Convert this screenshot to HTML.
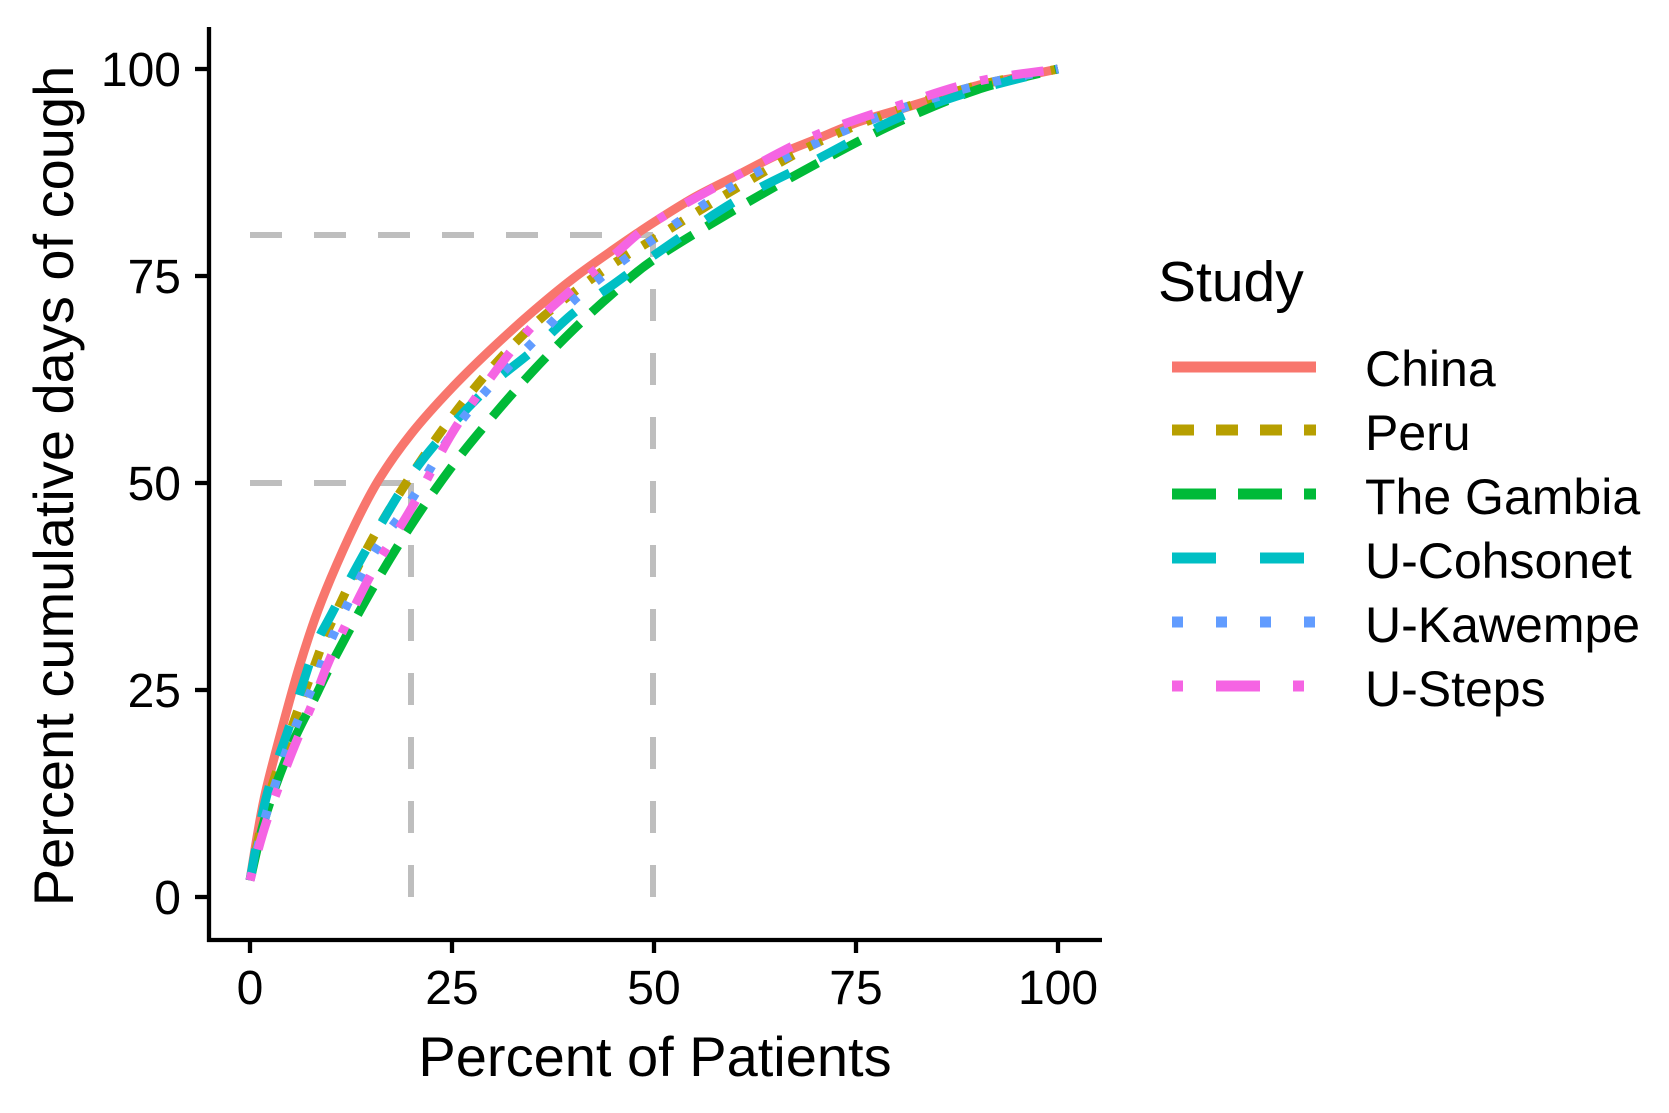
<!DOCTYPE html>
<html><head><meta charset="utf-8"><style>
html,body{margin:0;padding:0;background:#fff;}
svg{display:block;font-family:"Liberation Sans",Arial,sans-serif;}
</style></head><body>
<svg id="s" width="1669" height="1113" viewBox="0 0 1669 1113" xmlns="http://www.w3.org/2000/svg">
<rect width="1669" height="1113" fill="#fff"/>
<g stroke="#BEBEBE" stroke-width="6" stroke-dasharray="32,32" fill="none">
<line x1="250" y1="235" x2="653" y2="235"/>
<line x1="653" y1="897" x2="653" y2="235"/>
<line x1="250" y1="483" x2="411" y2="483"/>
<line x1="411" y1="897" x2="411" y2="483"/>
</g>
<g id="curves" fill="none" stroke-width="9" stroke-linecap="butt"></g>
<g stroke="#000" stroke-width="4.3">
<line x1="209" y1="27" x2="209" y2="942"/>
<line x1="207" y1="940" x2="1102" y2="940"/>
<line x1="195" y1="897" x2="209" y2="897"/>
<line x1="195" y1="690" x2="209" y2="690"/>
<line x1="195" y1="483" x2="209" y2="483"/>
<line x1="195" y1="276" x2="209" y2="276"/>
<line x1="195" y1="69" x2="209" y2="69"/>
<line x1="250" y1="940" x2="250" y2="953"/>
<line x1="452" y1="940" x2="452" y2="953"/>
<line x1="654" y1="940" x2="654" y2="953"/>
<line x1="856" y1="940" x2="856" y2="953"/>
<line x1="1058" y1="940" x2="1058" y2="953"/>
</g>
<g font-size="48" fill="#000" text-anchor="end">
<text x="181" y="914">0</text>
<text x="181" y="707">25</text>
<text x="181" y="500">50</text>
<text x="181" y="293">75</text>
<text x="181" y="86">100</text>
</g>
<g font-size="48" fill="#000" text-anchor="middle">
<text x="250" y="1004">0</text>
<text x="452" y="1004">25</text>
<text x="654" y="1004">50</text>
<text x="856" y="1004">75</text>
<text x="1058" y="1004">100</text>
</g>
<text x="655" y="1076" font-size="56" text-anchor="middle">Percent of Patients</text>
<text transform="translate(73,486) rotate(-90)" font-size="56" text-anchor="middle">Percent cumulative days of cough</text>
<text x="1158" y="301" font-size="57">Study</text>
<g stroke-width="11" fill="none">
<line x1="1172" y1="367" x2="1316" y2="367" stroke="#F8766D"/>
<line x1="1172" y1="430" x2="1316" y2="430" stroke="#B79F00" stroke-dasharray="22,22"/>
<line x1="1172" y1="494" x2="1316" y2="494" stroke="#00BA38" stroke-dasharray="44,22"/>
<line x1="1172" y1="558" x2="1316" y2="558" stroke="#00BFC4" stroke-dasharray="44,44"/>
<line x1="1172" y1="622" x2="1316" y2="622" stroke="#619CFF" stroke-dasharray="11,33"/>
<line x1="1172" y1="686" x2="1316" y2="686" stroke="#F564E3" stroke-dasharray="11,33,44,33"/>
</g>
<g font-size="50" fill="#000">
<text x="1365" y="386">China</text>
<text x="1365" y="450">Peru</text>
<text x="1365" y="514">The Gambia</text>
<text x="1365" y="578">U-Cohsonet</text>
<text x="1365" y="642">U-Kawempe</text>
<text x="1365" y="706">U-Steps</text>
</g>
</svg>
<script>
var series=[
["#F8766D","",[[0,2],[1,8],[2,13],[4,20.5],[6,27.5],[8,33.5],[10,38.5],[13,45],[16,50.5],[20,56],[25,61.5],[30,66.3],[35,70.7],[40,74.7],[45,78.2],[50,81.5],[55,84.5],[60,87],[65,89.5],[70,91.5],[75,93.5],[80,95],[85,96.5],[90,98],[95,99],[100,100]]],
["#B79F00","16,16",[[0,2],[2,11],[5,20],[8,28],[10,33],[15,43],[20,51],[25,58],[30,64],[35,69],[40,73],[45,76.5],[50,79.5],[60,85.5],[70,91],[80,95],[90,98],[100,100]]],
["#00BA38","32,16",[[0,2],[2,10],[5,18],[8,24],[10,28],[15,37],[20,45],[25,52],[30,58],[35,63.5],[40,68.5],[45,73],[50,77],[60,83],[70,88.5],[80,93.5],[90,97.5],[100,100]]],
["#00BFC4","32,32",[[0,2],[2,12],[5,21],[8,30],[10,34],[15,43],[20,51],[25,57],[30,62],[35,66],[40,70.5],[45,74],[50,77.5],[60,84],[70,89],[80,94],[90,97.5],[100,100]]],
["#619CFF","8,24",[[0,2],[2,10],[5,19],[8,26],[10,31],[15,41],[20,48],[25,56],[30,62],[35,67],[40,72],[45,76],[50,79.5],[60,86],[70,91],[80,95],[90,98],[100,100]]],
["#F564E3","8,24,32,24",[[0,2],[2,9],[5,17],[8,24],[10,29],[15,39],[20,47],[25,56],[30,63],[35,69],[40,73.5],[45,77.5],[50,81.5],[60,87],[70,92],[80,95.5],[90,98.5],[100,100]]]
];
function X(x){return 250+x*8.08;}function Y(y){return 897-y*8.28;}
var g=document.getElementById("curves"),ns="http://www.w3.org/2000/svg";
series.forEach(function(s){
 var p=s[2].map(function(a){return [X(a[0]),Y(a[1])];});
 var d="M"+p[0][0].toFixed(1)+","+p[0][1].toFixed(1);
 for(var i=0;i<p.length-1;i++){
  var p0=p[Math.max(i-1,0)],p1=p[i],p2=p[i+1],p3=p[Math.min(i+2,p.length-1)];
  var c1=[p1[0]+(p2[0]-p0[0])/6,p1[1]+(p2[1]-p0[1])/6],c2=[p2[0]-(p3[0]-p1[0])/6,p2[1]-(p3[1]-p1[1])/6];
  d+="C"+c1.map(v=>v.toFixed(1))+" "+c2.map(v=>v.toFixed(1))+" "+p2.map(v=>v.toFixed(1));
 }
 var e=document.createElementNS(ns,"path");
 e.setAttribute("d",d);e.setAttribute("stroke",s[0]);
 if(s[1])e.setAttribute("stroke-dasharray",s[1]);
 g.appendChild(e);
});
</script>
</body></html>
